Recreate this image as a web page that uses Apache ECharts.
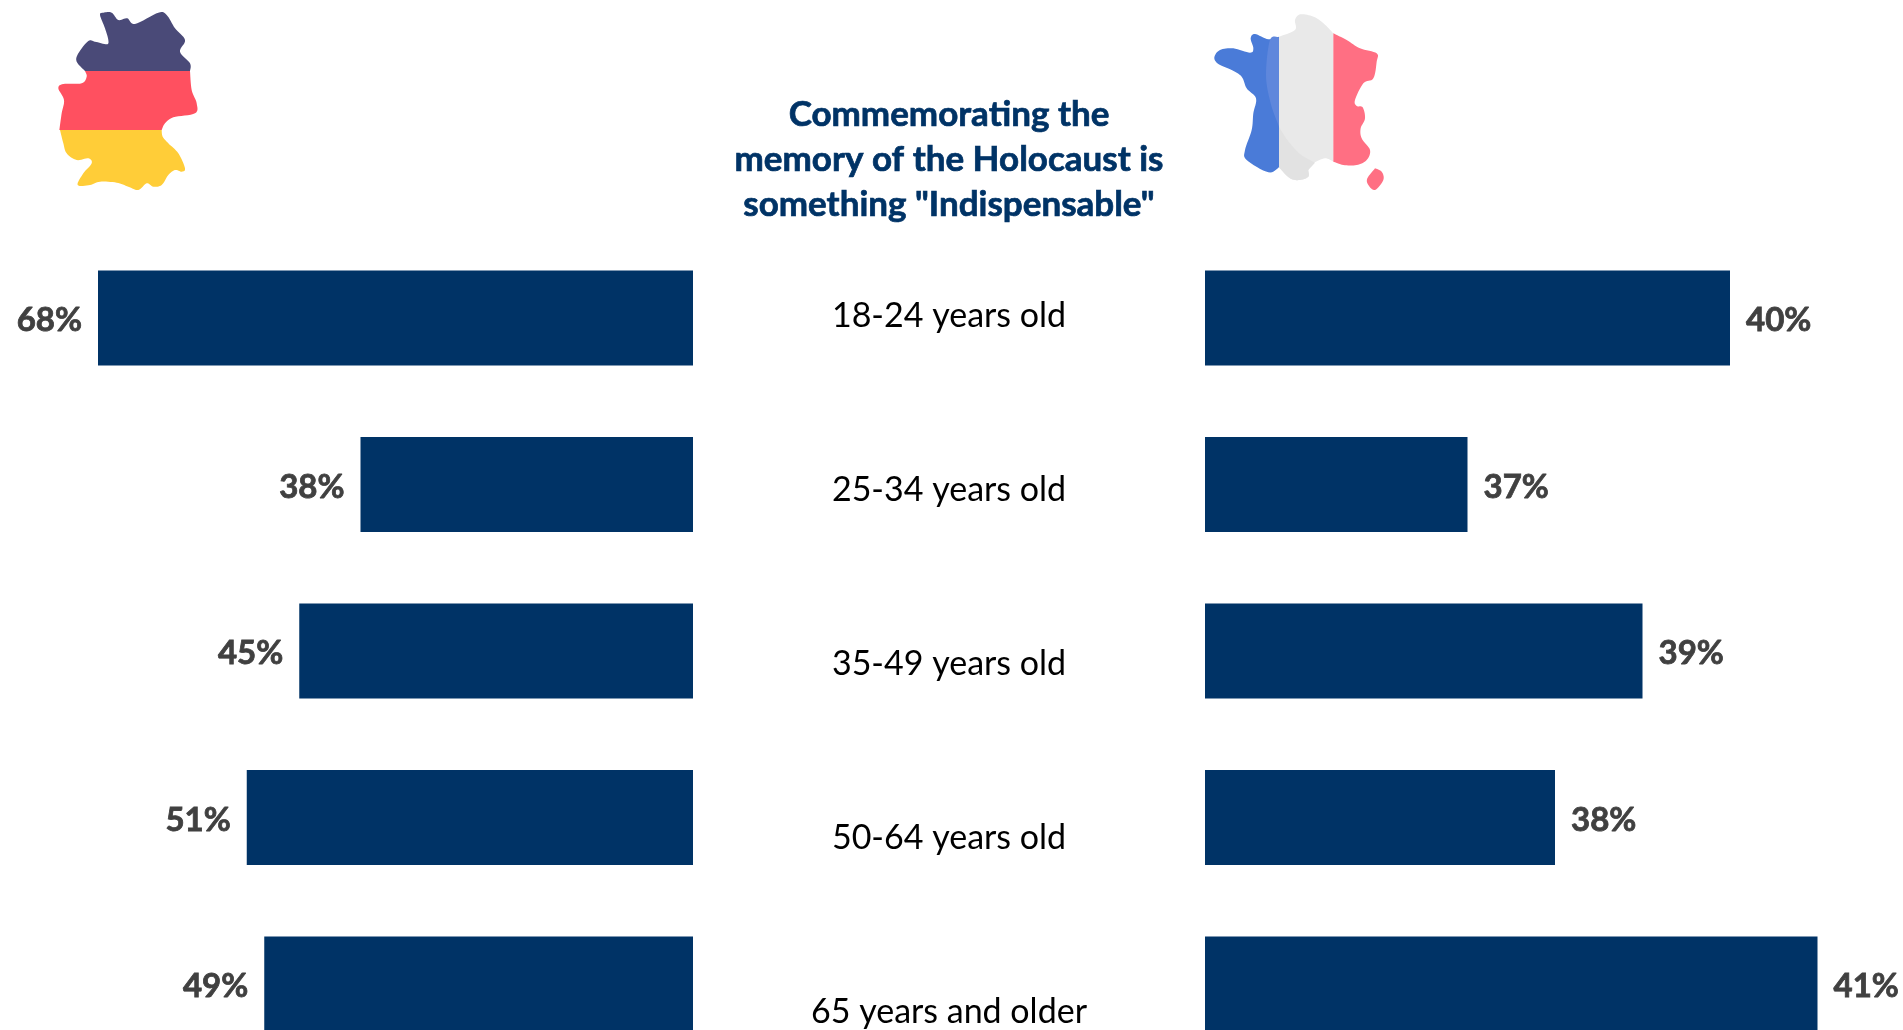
<!DOCTYPE html>
<html><head><meta charset="utf-8">
<style>html,body{margin:0;padding:0;background:#fff;overflow:hidden}#c{width:1903px;height:1030px}</style>
<script src="https://cdn.jsdelivr.net/npm/echarts@6/dist/echarts.min.js"></script>
</head><body><div id="c"></div>
<script>
const categories = ['18-24 years old','25-34 years old','35-49 years old','50-64 years old','65 years and older'];
const germanyValues = [68,38,45,51,49];
const franceValues = [40,37,39,38,41];
const titleText = 'Commemorating the\nmemory of the Holocaust is\nsomething "Indispensable"';

const FONT = 'Lato';
const NAVY = '#003366';
const LABEL = '#404040';

// Decorative flag-map outlines, in 3x crop coordinates
const deDark = [[[450,213],[450,190],[420,155],[435,120],[405,85],[380,45],[355,38],[285,72],[262,55],[235,60],[215,38],[190,38],[180,45],[195,85],[205,120],[200,133],[165,125],[145,123],[115,160],[110,185],[135,213]]];
const deRed = [[[135,213],[140,230],[125,250],[70,252],[55,265],[72,300],[65,340],[58,390]],[[365,390],[375,370],[400,352],[465,340],[470,310],[455,270],[450,213]]];
const deYellow = [[[60,390],[70,430],[80,460],[110,480],[145,475],[155,490],[130,520],[113,555],[150,555],[180,545],[230,548],[265,560],[295,570],[320,550],[340,560],[365,555],[385,525],[405,510],[425,515],[435,505],[415,460],[385,430],[368,410],[365,390]]];
const frBlue = [[[237,110],[205,118],[165,102],[152,115],[160,145],[150,158],[100,145],[60,150],[43,172],[55,192],[95,210],[125,230],[140,265],[168,295],[160,340],[155,390],[135,450],[140,480],[205,517],[237,502]]];
const frBlueLight = [[[237,112],[210,120],[198,225],[212,310],[237,380]]];
const frWhite = [[[237,110],[285,90],[285,60],[300,43],[335,48],[365,65],[400,100]],[[400,485],[375,475],[340,490],[325,510],[325,530],[300,540],[270,535],[237,502]]];
const frWhiteDark = [[[237,380],[262,420],[300,462],[345,488]],[[325,510],[325,530],[300,540],[270,535],[237,502]]];
const frRed = [[[400,100],[440,120],[480,145],[530,160],[530,185],[520,235],[490,250],[465,300],[470,318],[488,322],[495,355],[482,385],[485,415],[510,450],[500,480],[470,495],[430,495],[400,485]]];
const frCorsica = [[[525,505],[545,515],[550,540],[525,570],[505,555],[502,535],[525,505]]];

function toPoints(curves, ox, oy) {
  const out = [];
  curves.forEach(c => {
    const pts = c.map(p => [ox + p[0]/3, oy + p[1]/3]);
    out.push(pts[0]);
    for (let i = 0; i < pts.length - 1; i++) {
      const p0 = pts[Math.max(i-1,0)], p1 = pts[i], p2 = pts[i+1], p3 = pts[Math.min(i+2,pts.length-1)];
      for (let k = 1; k <= 8; k++) {
        const t = k/8, t2 = t*t, t3 = t2*t;
        const f = j => 0.5*(2*p1[j] + (p2[j]-p0[j])*t + (2*p0[j]-5*p1[j]+4*p2[j]-p3[j])*t2 + (3*p1[j]-p0[j]-3*p2[j]+p3[j])*t3);
        out.push([f(0), f(1)]);
      }
    }
  });
  return out;
}
const blob = (curves, ox, oy, fill) => ({type:'polygon', silent:true, shape:{points:toPoints(curves,ox,oy)}, style:{fill}});

const chart = echarts.init(document.getElementById('c'), null, {renderer:'canvas'});
const pitchTop = 234.7, pitchH = 832.6;
const barLabel = {show:true, fontFamily:FONT, fontWeight:'bold', fontSize:33, color:LABEL, distance:16, offset:[0,2.5], textBorderColor:LABEL, textBorderWidth:0.8, formatter:'{c}%'};
const hiddenAxis = {axisLine:{show:false}, axisTick:{show:false}, axisLabel:{show:false}, splitLine:{show:false}};

chart.setOption({
  animation:false,
  backgroundColor:'#fff',
  title:{text:titleText, left:949, top:92, padding:0, textAlign:'center',
    textStyle:{fontFamily:FONT, fontWeight:'bold', fontSize:35, color:NAVY, lineHeight:45, textBorderColor:NAVY, textBorderWidth:0.7}},
  grid:[
    {left:80.5, top:pitchTop, width:612.5, height:pitchH, outerBoundsMode:'none'},
    {left:1205, top:pitchTop, width:656.25, height:pitchH, outerBoundsMode:'none'},
    {left:949, top:229, width:1, height:870, outerBoundsMode:'none'}
  ],
  xAxis:[
    {gridIndex:0, type:'value', min:0, max:70, inverse:true, ...hiddenAxis},
    {gridIndex:1, type:'value', min:34, max:41.5, ...hiddenAxis},
    {gridIndex:2, type:'value', min:0, max:1, ...hiddenAxis}
  ],
  yAxis:[
    {gridIndex:0, type:'category', inverse:true, data:categories, ...hiddenAxis},
    {gridIndex:1, type:'category', inverse:true, data:categories, ...hiddenAxis},
    {gridIndex:2, type:'category', inverse:true, data:categories, axisLine:{show:false}, axisTick:{show:false}, splitLine:{show:false},
      axisLabel:{show:true, interval:0, margin:0, align:'center', fontFamily:FONT, fontSize:34, color:'#000'}}
  ],
  series:[
    {type:'bar', name:'Germany', xAxisIndex:0, yAxisIndex:0, data:germanyValues, barWidth:95, itemStyle:{color:NAVY}, label:{...barLabel, position:'left'}},
    {type:'bar', name:'France', xAxisIndex:1, yAxisIndex:1, data:franceValues, barWidth:95, itemStyle:{color:NAVY}, label:{...barLabel, position:'right'}}
  ],
  graphic:[
    blob(deDark,40,0,'#4a4a78'), blob(deRed,40,0,'#ff5060'), blob(deYellow,40,0,'#ffcd38'),
    blob(frBlue,1200,0,'#4a7bd8'), blob(frBlueLight,1200,0,'#5f87dc'),
    blob(frWhite,1200,0,'#e9e9e9'), blob(frWhiteDark,1200,0,'#e2e2e2'),
    blob(frRed,1200,0,'#ff6f83'), blob(frCorsica,1200,0,'#ff6f83')
  ]
});
</script></body></html>
